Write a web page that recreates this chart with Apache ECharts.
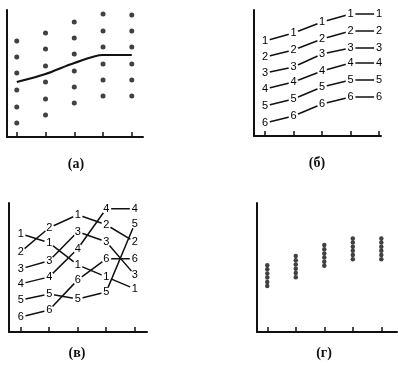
<!DOCTYPE html>
<html><head><meta charset="utf-8">
<script src="https://cdn.jsdelivr.net/npm/echarts@6/dist/echarts.min.js"></script>
<style>html,body{margin:0;padding:0;background:#fff}#c{width:398px;height:366px}</style>
</head><body><div id="c"></div>
<script>
// x positions (5 time points) shared by all panels
const positions = [1, 2, 3, 4, 5];

// Panel (а): six individual points per column and their mean curve
const dotsA = [
  [9.6, 8.0, 6.4, 4.7, 3.0, 1.4],
  [10.4, 8.8, 7.1, 5.5, 3.8, 2.2],
  [11.5, 9.9, 8.3, 6.6, 5.0, 3.4],
  [12.3, 10.6, 9.0, 7.3, 5.7, 4.1],
  [12.2, 10.6, 9.0, 7.3, 5.7, 4.1]
];
const meanA = [5.5, 6.3, 7.4, 8.2, 8.2];

// Panel (б): six individual profiles, keeping their rank
const seriesB = [
  [9.5, 10.3, 11.4, 12.2, 12.2],
  [7.9, 8.6, 9.7, 10.5, 10.5],
  [6.3, 6.9, 8.2, 8.8, 8.8],
  [4.7, 5.4, 6.5, 7.3, 7.3],
  [3.0, 3.7, 4.9, 5.6, 5.6],
  [1.3, 2.0, 3.2, 3.9, 3.9]
];
const labelsB = [
  ['1','1','1','1','1'],
  ['2','2','2','2','2'],
  ['3','3','3','3','3'],
  ['4','4','4','4','4'],
  ['5','5','5','5','5'],
  ['6','6','6','6','6']
];

// Panel (в): six individual profiles, crossing each other
const seriesV = [
  [9.8, 8.9, 6.7, 5.5, 4.3],
  [8.0, 10.4, 11.7, 10.7, 9.0],
  [6.3, 7.1, 10.0, 9.0, 5.7],
  [4.8, 5.5, 8.3, 12.3, 12.3],
  [3.2, 3.8, 3.3, 4.0, 10.8],
  [1.5, 2.2, 5.2, 7.3, 7.3]
];
const labelsV = [
  ['1','1','1','1','1'],
  ['2','2','1','2','2'],
  ['3','3','3','3','3'],
  ['4','4','4','4','4'],
  ['5','5','5','5','5'],
  ['6','6','6','6','6']
];

// Panel (г): tightly clustered points per column
const dotsG = [
  [6.67, 6.27, 5.84, 5.44, 5.00, 4.60],
  [7.57, 7.15, 6.73, 6.31, 5.89, 5.47],
  [8.67, 8.26, 7.84, 7.43, 7.01, 6.60],
  [9.34, 8.93, 8.51, 8.10, 7.68, 7.27],
  [9.34, 8.93, 8.51, 8.10, 7.68, 7.27]
];

const captions = ['(а)', '(б)', '(в)', '(г)'];

const INK = '#111';
const panels = [
  {left: 7,   top: 10,  width: 136, height: 127, xmin: 0.66, xmax: 5.39, ymax: 12.7},
  {left: 254, top: 10,  width: 127, height: 126, xmin: 0.614, xmax: 5.07, ymax: 12.6},
  {left: 9,   top: 203, width: 138, height: 129, xmin: 0.59, xmax: 5.43, ymax: 12.87},
  {left: 257, top: 203, width: 140, height: 129, xmin: 0.64, xmax: 5.55, ymax: 12.87}
];
const captionPos = [[76, 164], [317, 163], [77, 353], [324, 353]];

const grid = panels.map(p => ({left: p.left, top: p.top, width: p.width, height: p.height, containLabel: false}));
const xAxis = panels.map((p, i) => ({
  type: 'value', gridIndex: i, min: p.xmin, max: p.xmax,
  axisLine: {show: true, onZero: false, lineStyle: {color: INK, width: 2}},
  axisTick: {show: true, inside: true, length: 5, customValues: positions, lineStyle: {color: INK, width: 1.5}},
  axisLabel: {show: false}, splitLine: {show: false}
}));
const yAxis = panels.map((p, i) => ({
  type: 'value', gridIndex: i, min: 0, max: p.ymax,
  axisLine: {show: true, onZero: false, lineStyle: {color: INK, width: 2}},
  axisTick: {show: false}, axisLabel: {show: false}, splitLine: {show: false}
}));

function dotData(cols) {
  const out = [];
  cols.forEach((col, i) => col.forEach(v => out.push([positions[i], v])));
  return out;
}

const series = [];
series.push({
  type: 'scatter', xAxisIndex: 0, yAxisIndex: 0, symbolSize: 5,
  itemStyle: {color: INK}, data: dotData(dotsA), silent: true
});
series.push({
  type: 'line', xAxisIndex: 0, yAxisIndex: 0, smooth: 0.3, symbol: 'none',
  lineStyle: {color: INK, width: 2.2}, data: meanA.map((v, i) => [positions[i], v]), silent: true
});

function labelled(vals, labels, idx) {
  vals.forEach((s, si) => {
    series.push({
      type: 'line', xAxisIndex: idx, yAxisIndex: idx, symbol: 'circle', symbolSize: 10,
      showAllSymbol: true, silent: true,
      itemStyle: {color: '#fff', borderWidth: 0},
      lineStyle: {color: INK, width: 1.5},
      label: {show: true, position: 'inside', color: '#000', fontSize: 11,
        fontFamily: 'Liberation Sans', formatter: p => labels[si][p.dataIndex]},
      emphasis: {disabled: true},
      data: s.map((v, i) => [positions[i], v])
    });
  });
}
labelled(seriesB, labelsB, 1);
labelled(seriesV, labelsV, 2);

series.push({
  type: 'scatter', xAxisIndex: 3, yAxisIndex: 3, symbolSize: 4.5,
  itemStyle: {color: INK}, data: dotData(dotsG), silent: true
});

const graphic = captions.map((t, i) => ({
  type: 'text', x: captionPos[i][0], y: captionPos[i][1],
  style: {text: t, align: 'center', verticalAlign: 'middle', fill: '#111',
    font: 'bold 14px "Liberation Serif"'}
}));

const chart = echarts.init(document.getElementById('c'), null, {renderer: 'canvas'});
chart.setOption({animation: false, backgroundColor: '#fff', grid, xAxis, yAxis, series, graphic});
</script></body></html>
